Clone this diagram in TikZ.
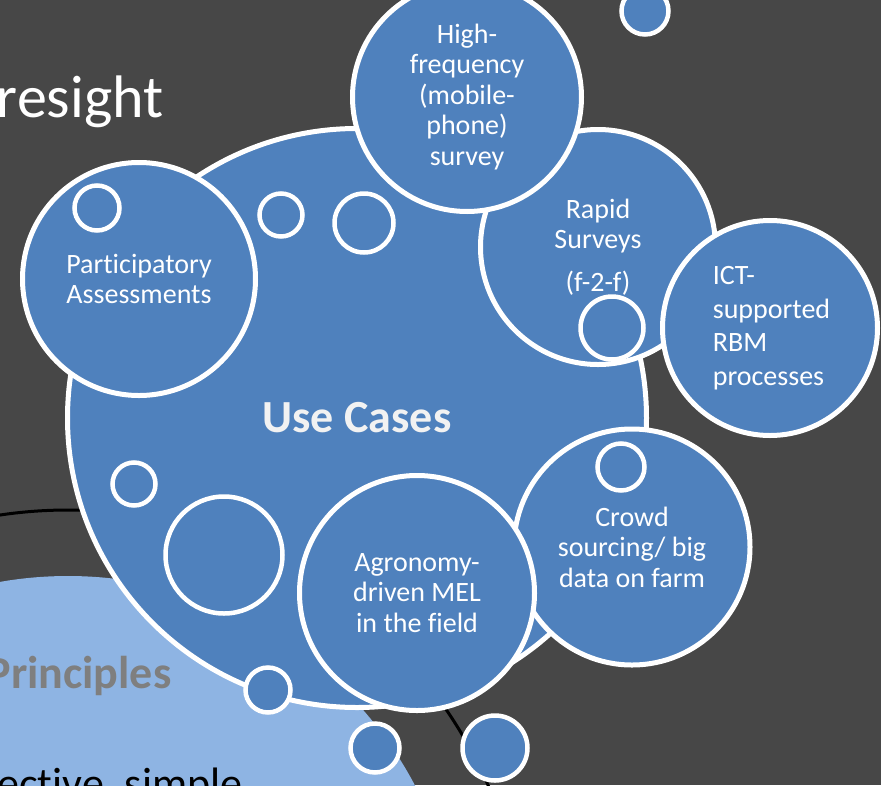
\documentclass[tikz,border=0pt]{standalone}
\usepackage{fontspec}
\setmainfont{Carlito}[Ligatures=NoCommon]
\usepackage{tikz}
\definecolor{bgrey}{RGB}{71,71,71}
\definecolor{ublue}{RGB}{79,129,189}
\definecolor{lblue}{RGB}{142,180,227}
\definecolor{tgrey}{RGB}{127,127,127}
\definecolor{ucwhite}{RGB}{242,242,242}
\newcommand{\bubtext}{\fontsize{28}{30.5}\selectfont}

\begin{document}
\begin{tikzpicture}[x=1pt,y=-1pt,
	bubble/.style={circle,draw=white,line width=5pt,fill=ublue,inner sep=0pt,text=white,align=center,font=\bubtext},
	dot/.style={circle,draw=white,line width=4.5pt,fill=ublue,inner sep=0pt}]
	\useasboundingbox (0,0) rectangle (881,785);
	\clip (0,0) rectangle (881,785);
	\fill[bgrey] (0,0) rectangle (881,785);
	
	\draw[black,line width=3pt] (68,968) circle (458);
	\fill[lblue] (68,968) circle (392);
	\node[anchor=base east,text=white,font=\fontsize{60}{72}\selectfont] (fs) at (167,117) {Foresight};
	\node[anchor=base east,text=tgrey,font=\bfseries\fontsize{46}{55}\selectfont] (pr) at (175,688) {Principles};
	\node[anchor=base east,text=black,font=\fontsize{44}{53}\selectfont] (es) at (246,798) {Effective, simple};
	
	\node[dot,minimum size=28] (s12) at (703,392) {};
	\node[dot,minimum size=65] (s10) at (495,748) {};
	\node[dot,minimum size=49] (s9) at (375,748) {};
	
	\node[bubble,minimum size=579,text=ucwhite,font=\bfseries\fontsize{46}{55}\selectfont] (uc) at (357,418) {Use Cases};
	\node[bubble,minimum size=236] (cs) at (632,547) {Crowd\\sourcing/ big\\data on farm};
	\node[bubble,minimum size=235] (ag) at (417,593) {Agronomy-\\driven MEL\\in the field};
	\node[bubble,minimum size=235] (rs) at (598,247) {Rapid\\Surveys\\[12pt](f-2-f)};
	\node[bubble,minimum size=215,align=left,font=\fontsize{28}{33.5}\selectfont] (ict) at (770,328) {\hspace*{3pt}ICT-\\\hspace*{3pt}supported\\\hspace*{3pt}RBM\\\hspace*{3pt}processes};
	\node[bubble,minimum size=229] (hf) at (467,97) {High-\\frequency\\(mobile-\\phone)\\survey};
	\node[bubble,minimum size=233] (pa) at (139,279) {Participatory\\Assessments};
	
	\node[dot,minimum size=45] (s1) at (97,208) {};
	\node[dot,minimum size=43] (s2) at (281,215) {};
	\node[dot,minimum size=59] (s3) at (364,223) {};
	\node[dot,minimum size=63] (s4) at (612,328) {};
	\node[dot,minimum size=47] (s5) at (621,467) {};
	\node[dot,minimum size=43] (s6) at (134,484) {};
	\node[dot,minimum size=117] (s7) at (224,555) {};
	\node[dot,minimum size=45] (s8) at (268,690) {};
	\node[dot,minimum size=47] (s11) at (645,11) {};
\end{tikzpicture}
\end{document}
